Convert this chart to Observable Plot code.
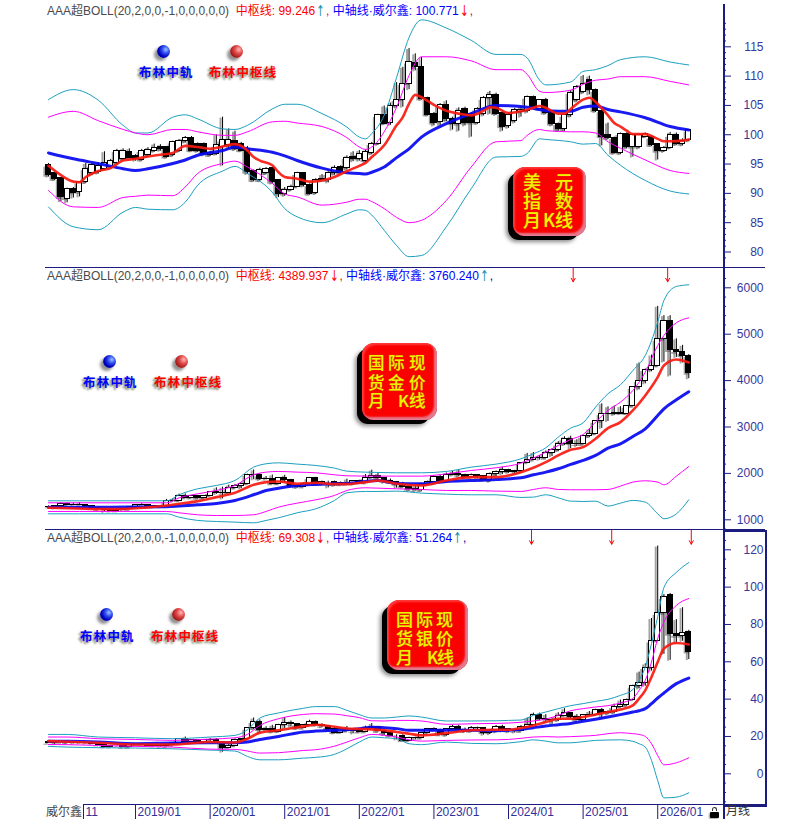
<!DOCTYPE html>
<html><head><meta charset="utf-8">
<script src="https://cdn.jsdelivr.net/npm/d3@7"></script>
<script src="https://cdn.jsdelivr.net/npm/@observablehq/plot@0.6"></script>
<style>
html,body{margin:0;padding:0;background:#fff}
#root{position:relative;width:802px;height:819px;overflow:hidden;font-family:"Liberation Sans","Noto Sans CJK SC",sans-serif}
#root svg{position:absolute;left:0;overflow:visible;background:transparent}
.ln{position:absolute;background:#1c1c80}
.t{position:absolute;white-space:nowrap;line-height:1;transform:translateY(-50%)}
.hd{position:absolute;left:47px;white-space:nowrap;font-size:12px;line-height:14px;transform:translateY(-50%)}
.ar{font-family:"DejaVu Sans";font-size:13px;display:inline-block;transform:scale(.8,1.15)}
.ball{position:absolute;width:13px;height:13px;border-radius:50%;box-shadow:-3px 3px 3px rgba(70,70,70,.6)}
.bl{position:absolute;white-space:nowrap;font:700 12.5px/1 "Noto Sans CJK SC";letter-spacing:1.2px;transform:translateY(-50%);text-shadow:-2px 2px 2px #8d9384,-1px 1px 3px #c8c8a8}
.btn{position:absolute;background:#fa0000;border-radius:12px;box-shadow:-6px 5px 0 -1px #000,-8px 7px 4px -1px #888,inset -3px -3px 2px #e27a90,inset 2px 2px 2px #ff3a3a}
.ch{position:absolute;line-height:1;font-family:"Noto Sans CJK SC";font-weight:500;color:#f2f000;text-shadow:0 0 1px #b08a00;transform:translateY(-50%)}
</style></head><body><div id="root"></div>
<script>
// month index 0 = 2017/11 ... 103 = 2026/06
const xTicks=[5.63,14,26,38,50,62,74,86,98];
const xLabels=["11","2019/01","2020/01","2021/01","2022/01","2023/01","2024/01","2025/01","2026/01"];

// ---- US Dollar Index (monthly candles) ----
const dxyOpen=[94.8,93.4,92.6,89.1,90.8,90.2,91.9,93.4,93.6,94.2,
94.5,95.1,95.9,97,96.3,95.7,96.5,97.3,97.9,97.9,
96.5,97.3,98.9,99.5,98.4,98.4,96.5,96.8,97.9,98.2,
99,98.5,97.6,93.9,92.2,93.4,94.3,92.2,89.9,90.6,
91.1,93.4,91.5,90.1,92.2,92.2,93.4,94.5,94.3,96.2,
95.9,95.6,96.9,98.5,103.4,102,104.9,106,108.7,112.3,
111.6,106.2,103.6,102.2,105.1,102.7,101.8,104.4,103.6,102,
103.6,106.3,106.8,103.7,101.5,102.4,103.9,104.1,106.5,104.4,
106,103.9,101.9,100.9,103.3,105.9,107.3,109.3,107.6,104.1,
99.9,99.5,96.9,100.2,97.9,97.9,99.7,99.6,98.4,97.3,
97.8,100,98.4,99.1];
const dxyClose=[93.1,92.4,89.3,90.8,90.1,91.9,94.2,94.8,94.6,95.2,
95.5,97.3,97.3,96.1,95.9,97.3,97.4,97.8,97.5,96.2,
98.8,99,99.5,97.3,97.3,96.8,96.9,98.2,99.1,99.1,
97.6,97.3,93.6,92.2,94,94.2,91.9,89.9,90.6,91.1,
93.4,91.4,89.9,92.3,92.5,93.4,94.4,93.5,96.1,95.9,
96.8,97,98.5,103.3,101.9,104.9,106,108.7,112.4,111.5,
106.1,103.4,102,105,102.6,101.9,104.1,102,102,104.4,
106.2,106.7,103.6,101.4,103.4,104.3,104.3,106.4,104.6,105.9,
103.7,101.8,100.9,103.3,107.2,108.1,108.7,107.7,104.1,99.7,
99.4,96.9,100.2,97.9,99.9,99.9,100.2,98.2,97.2,97.8,
99.9,98.4,99,100.8];
const dxyHigh=[95.1,93.5,92.6,90.9,91,92,95.1,95.1,95.2,97.1,
95.8,97.5,97.6,97.6,96.6,97.5,97.8,98.4,98.3,98,
98.9,99.2,99.7,99.7,98.6,98.6,97.2,100,103,101,
100.6,98.7,98,94,94.3,94.4,94.4,92.3,91,91.4,
93.6,93.5,91.6,92.5,93.2,93.7,94.7,94.7,96.4,97.1,
97.3,97.4,98.7,103.5,104.9,105.4,108.9,111.5,114.7,113.8,
113.2,106.4,103.8,105.3,105.8,103,104.6,104.7,103.8,104.6,
106.5,107.4,107.1,103.9,103.7,104.5,104.8,106.6,106.6,106,
106.2,104,102,103.5,107.5,108.4,110.1,110,107.8,104.3,
102,99.6,100.3,100.3,100,100.1,100.3,99.8,98.5,98,
100.4,100.3,99.3,100.9];
const dxyLow=[92.8,92.2,88.6,88.4,89.2,89.4,91.7,93,93.3,93.9,
94.2,94.9,95.6,96,95.5,95.5,96.2,97,97.2,96,
96.3,97,98.6,97.1,97,96.4,96.3,96.5,94.7,97.5,
97.3,97.1,93.2,92,92,93.2,91.6,89.3,89.5,90.4,
91,91.1,89.7,89.8,92,91.8,93.1,93.3,94,95.4,
95.5,95.2,96.6,98.2,101.7,101.6,104.6,104.7,107.7,110.9,
105.9,103.2,101.5,101.5,102.2,100.8,100.6,101.5,99.6,101.8,
103.2,103.5,103.3,100.6,101.1,102,103,103.7,104.4,104.2,
103.5,101.5,100.6,100.6,103,105.6,107,106.8,103.8,98.1,
99.2,96.7,96.6,97.6,96.2,97.6,99.5,98,95.7,97,
97.6,98.2,98.1,98.8];
const dxyBandMonths=[0,4,8,12,14,16,20,22,24,28,30,32,36,38,40,44,48,50,51,52,54,56,58,60,64,68,72,76,77,79,80,84,86,88,90,92,96,100,103];
const dxyOuterUp=[106,107.7,105.9,101.6,100.3,100.3,103,103.4,102.7,101,100.9,101.6,104.4,105.2,105.2,103.6,101.3,99.6,99.3,100.2,103.3,109.8,116.6,119.6,118.2,116.1,113.7,113.7,113.1,109.3,108.5,109,110.8,111.1,111.8,112.8,113.3,112.4,111.9];
const dxyInnerUp=[103,104,102.4,100.9,100.3,100,100.9,100.9,100.5,99.9,99.9,100.5,102.2,102.3,102,101.4,99.5,97.9,97.5,97.9,100.5,104.7,110.1,113.3,113.3,112.6,111.1,111.1,110.3,107.4,107.2,107.6,108.6,109.3,109.5,109.9,109.9,109.1,108.5];
const dxyBlue=[96.9,95.9,95.1,94.2,93.9,94.2,95.1,95.7,96.5,97.3,97.9,97.6,97,96.4,95.6,94.3,93.5,93.4,93.3,93.6,94.5,96.1,97.6,99.6,101.9,103.6,105,104.8,104.7,104.3,104.1,104,104.7,104.9,104.3,103.9,102.9,101.4,100.8];
const dxyInnerLow=[90.5,87.7,87.6,89.3,89.5,89.7,89.6,91.1,93.4,95.1,95.5,94.5,91.7,89.9,89.4,88,88.5,89,89,88.6,87.4,85.9,85,85.4,88.8,94.5,98.8,99,99.9,100.9,100.7,100.5,100.5,100.3,98.8,97.7,95.7,93.9,93.4];
const dxyOuterLow=[87.7,84.3,83.8,86.8,87.6,87.3,87.2,88.5,91.4,93.8,94.6,93.4,90.2,87.4,86,85,86.5,87.2,87.1,86.3,83.7,81.1,79.2,79.4,84.3,90.8,96.2,96.3,96.8,99.3,99.2,98.8,98.4,98.5,96.5,94.8,92.2,90.4,89.9];
const dxyRedMonths=[0,2,4,5,6,8,10,12,14,16,18,20,22,24,26,28,30,31,32,33,34,36,37,38,40,42,44,46,48,50,51,52,54,56,57,58,59,60,62,64,66,68,70,71,72,74,76,78,79,80,82,83,84,86,87,88,90,91,92,93,94,96,98,99,100,102,103];
const dxyRed=[94.7,93.1,92,91.9,92.8,93.8,94.3,95.6,95.9,96.3,96.6,96.9,98.1,97.9,97.6,98,98.4,98.1,97.3,96.2,95.6,94.8,93.6,92.8,92.5,92,92.2,92.8,93.8,94.7,95.2,96.2,98.2,101.6,103,105.3,106.8,106.4,105.1,104.1,103.6,103.3,104.1,104.7,104.6,103.7,104,104.6,104.9,104.6,103.6,103.6,104.4,106,106.3,105.6,103.3,102,101.4,100.7,100.1,100.1,99.3,98.9,98.9,99,99.2];

// ---- Spot gold (monthly candles) ----
const goldOpen=[1270,1275,1303,1345,1318,1325,1315,1298,1253,1224,
1201,1192,1215,1222,1282,1321,1313,1292,1283,1305,
1409,1413,1520,1472,1513,1464,1517,1589,1585,1577,
1686,1730,1781,1975,1968,1886,1879,1776,1898,1847,
1734,1708,1769,1906,1770,1814,1814,1757,1783,1774,
1829,1797,1909,1937,1897,1837,1807,1766,1711,1660,
1633,1768,1824,1928,1826,1969,1990,1962,1919,1965,
1940,1849,1983,2036,2063,2039,2044,2230,2286,2327,
2326,2447,2503,2634,2744,2643,2624,2798,2858,3123,
3288,3289,3303,3290,3447,3858,4002,4239,4320,4890,
5280,4650,4610,4540];
const goldHigh=[1299,1306,1366,1362,1356,1369,1326,1310,1265,1225,
1214,1243,1237,1284,1326,1346,1324,1310,1306,1439,
1452,1555,1557,1516,1515,1524,1611,1689,1703,1747,
1765,1789,1984,2075,1992,1933,1965,1906,1959,1871,
1755,1798,1913,1916,1834,1832,1834,1814,1877,1831,
1853,1974,2070,1998,1909,1879,1814,1808,1735,1730,
1786,1833,1949,1960,2009,2048,2079,1983,1987,1966,
1953,2009,2052,2135,2088,2065,2222,2431,2450,2387,
2484,2531,2685,2790,2801,2726,2817,2956,3128,3500,
3435,3451,3439,3453,3871,4381,4250,4550,5600,5400,
5400,4900,4760,4560];
const goldLow=[1264,1236,1302,1307,1303,1302,1282,1246,1211,1160,
1180,1182,1196,1221,1276,1302,1281,1266,1267,1296,
1382,1400,1459,1459,1445,1453,1517,1548,1451,1568,
1670,1671,1757,1863,1849,1860,1764,1764,1802,1717,
1677,1705,1765,1750,1750,1688,1721,1746,1760,1753,
1780,1780,1895,1872,1787,1805,1681,1688,1615,1617,
1616,1765,1824,1804,1810,1950,1932,1893,1902,1884,
1848,1810,1931,1973,2002,1984,2030,2229,2277,2286,
2318,2364,2471,2603,2536,2583,2614,2772,2833,2970,
3120,3247,3268,3280,3436,3800,3930,4190,4300,4400,
4100,4500,4380,4040];
const goldClose=[1275,1303,1345,1318,1325,1315,1298,1253,1224,1201,
1192,1215,1222,1282,1321,1313,1292,1283,1305,1409,
1413,1520,1472,1513,1464,1517,1589,1585,1577,1686,
1730,1781,1975,1968,1886,1879,1776,1898,1847,1734,
1708,1769,1906,1770,1814,1814,1757,1783,1774,1829,
1797,1909,1937,1897,1837,1807,1766,1711,1660,1633,
1768,1824,1928,1826,1969,1990,1962,1919,1965,1940,
1849,1983,2036,2063,2039,2044,2230,2286,2327,2326,
2447,2503,2634,2744,2643,2624,2798,2858,3123,3288,
3289,3303,3290,3447,3858,4002,4239,4320,4890,5280,
4650,4610,4540,4160];
const goldBandMonths=[0,10,19,21,24,27,30,33,35,37,40,43,46,48,51,53,56,60,64,68,72,76,78,80,82,84,86,88,90,92,94,96,98,99,101,103];
const goldOuterUp=[1409,1409,1409,1539,1668,1740,1848,2135,2207,2228,2200,2171,2114,2049,2027,2020,2013,2013,2042,2135,2200,2315,2422,2552,2782,2976,3090,3428,3716,3909,4218,4542,5260,5727,6029,6065];
const goldInnerUp=[1366,1366,1366,1474,1560,1632,1740,1970,2027,2042,2027,2013,1970,1948,1941,1941,1941,1941,1991,2063,2121,2221,2329,2458,2602,2731,2839,3105,3356,3536,3787,4182,4757,4973,5246,5353];
const goldRed=[1259,1230,1309,1345,1402,1489,1582,1754,1812,1826,1776,1797,1769,1769,1812,1848,1776,1740,1848,1920,1920,2027,2121,2243,2387,2509,2566,2746,2976,3105,3356,3680,4075,4326,4455,4390];
const goldBlue=[1273,1273,1280,1295,1323,1352,1417,1539,1632,1682,1740,1762,1776,1783,1826,1848,1783,1776,1826,1848,1869,1905,1970,2027,2099,2193,2279,2387,2545,2638,2796,2961,3249,3392,3586,3760];
const goldInnerLow=[1180,1180,1180,1151,1108,1093,1093,1108,1180,1273,1359,1431,1524,1632,1690,1682,1668,1654,1632,1632,1618,1611,1654,1690,1654,1647,1647,1647,1654,1726,1812,1841,1812,1754,1941,2149];
const goldOuterLow=[1129,1129,1129,1057,986,964,950,935,986,1043,1151,1237,1417,1582,1611,1611,1618,1575,1553,1539,1539,1481,1489,1539,1474,1402,1395,1402,1295,1359,1417,1381,1129,1022,1129,1431];
const goldSignals=[84.4,99.6];

// ---- Spot silver (monthly candles) ----
const silverClose=[16.4,16.9,17.3,16.5,16.3,16.3,16.4,16.1,15.5,14.5,
14.7,14.7,14.2,15.5,15.9,15.6,15.1,14.9,14.8,15.3,
16.4,18.4,17,18,17,17.9,18,16.8,14,15,
18.3,18.6,24.4,28,23.7,23.9,22.6,26.4,27,26.7,
24.4,26,28,26.1,25.5,24,22.1,24,22.9,23.3,
22.4,24.3,25.1,22.7,21.7,20.3,20.3,17.8,19,19.1,
21.7,24,23.7,20.9,24.1,25,23.6,22.8,24.7,24.3,
22.1,22.9,25.3,23.8,23,22.7,25,26.3,31.3,29.1,
29,28.9,31.1,32.7,30.6,28.9,31.3,31.6,34.1,32.6,
33,36,36.6,39.7,46.9,48.7,56.9,71.2,86,94.5,
74.8,73.7,75.5,65.3];
const silverOpen=[16.9,16.4,16.9,17.3,16.5,16.3,16.3,16.4,16.1,15.5,
14.5,14.7,14.7,14.2,15.5,15.9,15.6,15.1,14.9,14.8,
15.3,16.4,18.4,17,18,17,17.9,18,16.8,14,
15,18.3,18.6,24.4,28,23.7,23.9,22.6,26.4,27,
26.7,24.4,26,28,26.1,25.5,24,22.1,24,22.9,
23.3,22.4,24.3,25.1,22.7,21.7,20.3,20.3,17.8,19,
19.1,21.7,24,23.7,20.9,24.1,25,23.6,22.8,24.7,
24.3,22.1,22.9,25.3,23.8,23,22.7,25,26.3,31.3,
29.1,29,28.9,31.1,32.7,30.6,28.9,31.3,31.6,34.1,
32.6,33,36,36.6,39.7,46.9,48.7,56.9,71.2,86,
95.7,74.8,73.7,75.7];
const silverHigh=[17.2,17.3,17.7,17.3,16.9,17.3,16.7,16.9,16,15,
14.8,14.9,14.7,15.6,16.2,16.1,15.7,15.2,14.9,15.5,
16.7,18.6,19.7,18.2,18,18,18.9,18.9,17,15.8,
18.7,18.9,24.6,29.9,28.9,25.2,26,26.5,30.1,28.3,
26.6,26.3,28.7,28.3,26.8,24.9,24.8,24.8,25.4,23.4,
23.9,25.5,26.9,25.4,22.6,22.5,20.9,20.9,19.6,19.6,
22.2,24.3,24.6,23.9,24.2,26.1,26.1,24.5,25.3,25,
24.5,23.7,25.9,26,24,23.3,25.8,29.8,32.5,32.5,
31.7,29.9,32.7,34.9,32.3,31.7,31.5,33.4,34.6,35,
33.7,37.3,39.5,40,47.5,54.5,58.9,83.2,122,96,
96.6,82.6,89,76.9];
const silverLow=[16.3,15.6,16.9,16.2,16,16.1,16,15.9,15.2,14,
14,14.4,14,14.2,15.2,15.5,14.9,14.6,14.2,14.3,
15,16.1,16.9,16.9,16.8,16.9,17.3,16.4,11.6,14,
14.7,17.6,18.3,23.7,21.6,22.9,21.9,22.3,24.2,25,
23.8,24.3,25.6,25.7,24.7,22.6,21.4,22,22.6,21.4,
22,22.3,23.9,22.4,20.5,20.1,18.2,17.6,17.6,18.1,
18.9,21.7,23,20.7,20.1,24,22.7,22.1,22.4,23.6,
20.7,21,22,22.5,22,21.9,22.5,24.9,26,28.6,
27.4,26.5,28,30.9,29.7,28.8,29,30.9,31.6,29.2,
31.6,32.2,35.3,36.2,39.4,45.5,46.9,55,71,64,
60.8,70,71,61.2];
const silverBandMonths=[0,3,8,14,20,26,30,32,34,37,41,43,46,48,50,52,54,56,58,60,64,68,72,74,76,78,80,82,84,86,88,90,92,94,95,96,97,98,99,101,103];
const silverOuterUp=[21.1,21.1,19.7,19.3,18.8,19.7,20.6,23.6,29.9,32.6,35.1,36,36,34,31.7,29.9,29.9,30.4,31,30.4,28.3,28.3,28.4,28.6,28.8,31.3,33.1,34.9,36.5,37.6,38.8,39.9,42,45.1,50.1,57.2,69.8,84.1,99.8,107.9,113.2];
const silverInnerUp=[19.7,19.7,18.8,18.4,17.9,18.6,19.3,21.1,25.9,29.5,31.8,32.2,32,31.1,30.1,28.4,28.3,28.6,28.6,28.3,26.5,26.8,27,27.2,27.6,28.3,29.3,31.3,33.8,34.9,35.8,36.5,37.9,40.3,44.7,50.1,59.9,72.5,81.4,90.2,93.9];
const silverRed=[17.5,17.2,16.6,15.7,15.7,17,16.8,18.8,22,23.3,25.4,26.3,25.2,24.3,24,23.8,23.3,22.4,21.5,20.6,21.8,23.3,23.6,23.6,24.5,25.9,27.7,29.5,29.5,30.4,31.8,33.1,34.5,36.7,40.3,44.7,51.9,59.9,67.1,70.1,69.3];
const silverBlue=[17.5,17.4,17,16.1,16.5,16.6,16.6,17,18.4,20,22.4,22.9,23.3,23.6,24.2,25,24.7,24.2,23.3,23.3,23.3,23.3,23.1,23.3,23.8,24.7,25.6,26.3,27,28.1,29.2,30.4,31.7,33.1,33.8,34.9,37.6,40.6,43.3,48.3,51.3];
const silverInnerLow=[15.7,15.6,15.2,14.7,14.3,13.2,13.1,12.2,11.1,11.3,12.5,12.9,14.8,17,19.3,21.1,20.6,19.7,18.2,17.5,17.9,18.1,18.2,18.4,19,19.7,19.9,19.7,19.9,20.2,20.6,21.5,22,21.5,21.1,20,16.1,9.8,4.8,5.9,8.6];
const silverOuterLow=[14.7,14.3,14,13.8,13.4,12.7,12.2,9.3,7.5,7.5,8.4,8.8,10.4,13.4,17,19.7,19.3,18.8,16.1,15.6,17,16.3,16.1,16.5,17.2,18.2,17.5,16.6,16.6,17.2,17.9,18.1,18.2,17.4,16.1,14.3,7.2,-3.6,-12.9,-12.5,-10.2];
const silverSignals=[77.7,90.6,103.4];

const NAVY="#1c1c80", TEAL="#1c9fbf", MAGENTA="#ff00ff", RED="#f81a10", BLUE="#0808f0";
const root=document.getElementById("root");

function panel(cfg){
  const rows=d3.range(104).map(i=>({i,o:cfg.o[i],h:cfg.h[i],l:cfg.l[i],c:cfg.c[i]}));
  const up=rows.filter(d=>d.c>=d.o), dn=rows.filter(d=>d.c<d.o);
  const body={x1:d=>d.i-0.42,x2:d=>d.i+0.42,y1:"o",y2:"c",stroke:"#000",strokeWidth:1,shapeRendering:"crispEdges"};
  const line=(months,vals,stroke,w,op=1)=>Plot.line(months.map((m,k)=>({m,v:vals[k]})),{x:"m",y:"v",stroke,strokeWidth:w,strokeOpacity:op,curve:"monotone-x"});
  const M=cfg.bandMonths, R=cfg.redMonths||M;
  const marks=[
    Plot.ruleX(rows,{x:"i",y1:"l",y2:"h",stroke:"#555",strokeWidth:2,strokeOpacity:.55,dx:-2,dy:1,ariaLabel:"shadow"}),
    Plot.rect(rows,{x1:d=>d.i-0.42,x2:d=>d.i+0.42,y1:"o",y2:"c",fill:"#555",fillOpacity:.55,dx:-2,dy:2,ariaLabel:"shadow"}),
    Plot.ruleX(rows,{x:"i",y1:"l",y2:"h",stroke:"#000",strokeWidth:1}),
    Plot.rect(up,{...body,fill:"#fff"}),
    Plot.rect(dn,{...body,fill:"#000"}),
    line(M,cfg.outerUp,TEAL,1),
    line(M,cfg.outerLow,TEAL,1),
    line(M,cfg.innerUp,MAGENTA,1),
    line(M,cfg.innerLow,MAGENTA,1),
    line(M,cfg.blue,BLUE,3,.93),
    line(R,cfg.red,RED,2.6,.92),
    Plot.axisY(cfg.majors,{anchor:"right",tickSize:7,tickPadding:33,textAnchor:"end",stroke:NAVY,fill:"#37379a",fontSize:12,fontWeight:500,tickFormat:d=>String(d),label:null}),
    Plot.axisY(cfg.minors,{anchor:"right",tickSize:2,stroke:NAVY,tickFormat:()=>"",label:null})
  ];
  if(cfg.signals){
    marks.push(Plot.arrow(cfg.signals,{x:d=>d,y1:cfg.sigTop,y2:cfg.sigTip,stroke:"#f00",strokeWidth:1,headLength:6,inset:0}));
  }
  if(cfg.axis){
    marks.push(Plot.axisX(xTicks,{anchor:"bottom",tickSize:15,stroke:NAVY,tickFormat:()=>"",label:null}));
    marks.push(Plot.text(xTicks,{x:d=>d,text:(d,k)=>xLabels[k],frameAnchor:"bottom",dy:8,dx:2,textAnchor:"start",lineAnchor:"middle",fill:"#30309c",fontSize:12}));
  }
  const svg=Plot.plot({
    width:802,height:cfg.height,marginLeft:0,marginTop:0,marginRight:79,marginBottom:cfg.axis?15:0,
    x:{domain:[0,103],range:[48,688.3],axis:null},
    y:{domain:cfg.yDomain,range:cfg.yRange,axis:null},
    style:{top:cfg.top+"px",fontFamily:'"Liberation Sans",sans-serif',fontSize:"12px",background:"transparent"},
    marks
  });
  svg.querySelectorAll('[aria-label="shadow"]').forEach(g=>g.style.filter="blur(1px)");
  root.appendChild(svg);
}

panel({top:0,height:268,yDomain:[115,80],yRange:[46.3,251.5],majors:[80,85,90,95,100,105,110,115],
  minors:d3.range(79,120).filter(v=>v%5),o:dxyOpen,h:dxyHigh,l:dxyLow,c:dxyClose,
  bandMonths:dxyBandMonths,redMonths:dxyRedMonths,outerUp:dxyOuterUp,innerUp:dxyInnerUp,blue:dxyBlue,red:dxyRed,innerLow:dxyInnerLow,outerLow:dxyOuterLow});
panel({top:268,height:262,yDomain:[6000,1000],yRange:[19.3,251.3],majors:[1000,2000,3000,4000,5000,6000],
  minors:d3.range(800,6400,200).filter(v=>v%1000),o:goldOpen,h:goldHigh,l:goldLow,c:goldClose,
  bandMonths:goldBandMonths,outerUp:goldOuterUp,innerUp:goldInnerUp,blue:goldBlue,red:goldRed,innerLow:goldInnerLow,outerLow:goldOuterLow,
  signals:goldSignals,sigTop:6420,sigTip:6130});
panel({top:530,height:289,yDomain:[120,0],yRange:[19.3,243.3],majors:[0,20,40,60,80,100,120],
  minors:d3.range(-15,130,5).filter(v=>v%20),o:silverOpen,h:silverHigh,l:silverLow,c:silverClose,
  bandMonths:silverBandMonths,outerUp:silverOuterUp,innerUp:silverInnerUp,blue:silverBlue,red:silverRed,innerLow:silverInnerLow,outerLow:silverOuterLow,
  signals:silverSignals,sigTop:130.5,sigTip:123,axis:true});

function div(cls,css,html){const e=document.createElement("div");e.className=cls;e.style.cssText=css;if(html!=null)e.innerHTML=html;root.appendChild(e);return e;}
// frame
div("ln","left:45px;top:267px;width:720px;height:1px");
div("ln","left:45px;top:529px;width:720px;height:1px");
div("ln","left:83px;top:804px;width:682px;height:1px");
div("ln","left:723px;top:4px;width:2px;height:815px");
div("","position:absolute;left:723px;top:530px;width:40px;height:273px;border:2px solid "+NAVY);
// headers
function header(y,a1,v1,a1c,comma1,v2,a2,a2c,comma2){
  const ac=c=>`<span class="ar" style="color:${c}">${c==="x"?"":""}`;
  div("hd",`top:${y}px`,
   `<span style="color:#4a4a4a">AAA超BOLL(20,2,0,0,-1,0,0,0,0,0)</span>&nbsp; <span style="color:#f00">中枢线: ${v1}</span><span class="ar" style="color:${a1c}">${a1}</span><span style="color:${comma1}">,</span> <span style="color:#00f">中轴线·威尔鑫: ${v2}</span><span class="ar" style="color:${a2c}">${a2}</span><span style="color:${comma2}">,</span>`);
}
header(11,"↑","99.246","#1a8fb0","#f00","100.771","↓","#f00","#c01040");
header(276,"↓","4389.937","#f00","#f00","3760.240","↑","#1a8fb0","#00a");
header(538,"↓","69.308","#f00","#f00","51.264","↑","#1a8fb0","#00a");
// balls and legends
function legend(bx,by,rx,lx,ly,rlx){
  div("ball",`left:${bx-6}px;top:${by-6}px;background:radial-gradient(circle at 68% 35%,#a0c0ff 0,#3050f0 30%,#0000c0 60%,#000060 100%)`);
  div("ball",`left:${rx-6}px;top:${by-6}px;background:radial-gradient(circle at 68% 35%,#ffb8b8 0,#e04848 35%,#a82020 65%,#501000 100%)`);
  div("bl",`left:${lx}px;top:${ly}px;color:#0000ff`,"布林中轨");
  div("bl",`left:${rlx}px;top:${ly}px;color:#ff0000`,"布林中枢线");
}
legend(163,51,236,139,72,209);
legend(109,361,181,83,382,154);
legend(106,614,178,80,636,151);
// buttons
function button(l,t,r,b,fs,chars){
  div("btn",`left:${l}px;top:${t}px;width:${r-l}px;height:${b-t}px`);
  for(const [c,x,y] of chars) div("ch",`left:${x}px;top:${y}px;font-size:${fs}px`,c);
}
button(513,167,586,236,18,[["美",523,181],["元",555,181],["指",523,200],["数",555,200],["月",523,219],["K",543,219],["线",555,219]]);
button(362,343,437,420,16.5,[["国",368,362],["际",388,362],["现",409,362],["货",368,382],["金",388,382],["价",409,382],["月",368,400],["K",398,400],["线",409,400]]);
button(387,600,468,670,17,[["国",396,618],["际",416,618],["现",436,618],["货",396,637],["银",416,637],["价",436,637],["月",396,656],["K",427,656],["线",437,656]]);
// bottom labels
div("t","left:46px;top:812px;font-size:12px;color:#444","威尔鑫");
div("t","left:726px;top:811px;font-size:12px;color:#333","月线");
div("","position:absolute;left:710px;top:812px;width:9px;height:6px;background:#000;border-radius:1px;box-shadow:-1px 1px 2px #999");
div("","position:absolute;left:712px;top:807px;width:3px;height:3px;border:1px solid #333;border-bottom:0;border-radius:3px 3px 0 0");
</script></body></html>
